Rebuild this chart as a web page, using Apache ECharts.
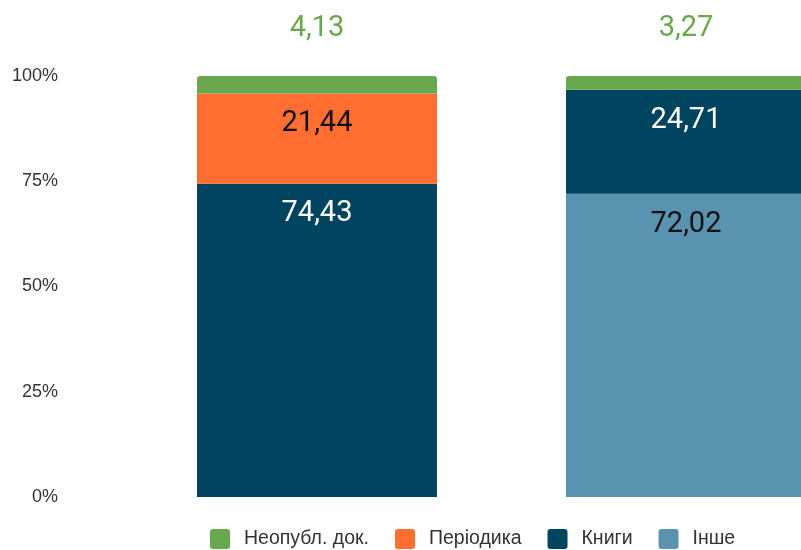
<!DOCTYPE html>
<html>
<head>
<meta charset="utf-8">
<script src="https://cdn.jsdelivr.net/npm/echarts@6/dist/echarts.min.js"></script>
<style>
    html, body { margin: 0; padding: 0; background: #fff; }
    #chart { width: 801px; height: 550px; }
</style>
</head>
<body>
<div id="chart"></div>
<script>
    // categories (no visible labels on the axis)
    const categories = ['Фонд 1', 'Фонд 2'];

    // shares, %  ('-' = no segment)
    const inshe = ['-', 72.02];
    const knyhy = [74.43, 24.71];
    const periodyka = [21.44, '-'];
    const neopubl = [4.13, 3.27];

    const yTicks = [0, 25, 50, 75, 100];

    const legendNames = ['Неопубл. док.', 'Періодика', 'Книги', 'Інше'];

    const fmt = p => p.value.toFixed(2).replace('.', ',');

    const labelFont = {fontFamily: 'Roboto', fontSize: 29};

    const chart = echarts.init(document.getElementById('chart'));

    const option = {
        animation: false,
        textStyle: {fontFamily: '"Liberation Sans", Arial, sans-serif'},
        grid: {
            top: 76,
            bottom: 53,
            left: 132.5,
            width: 738,
            containLabel: false,
            outerBoundsMode: 'none'
        },
        legend: {
            data: legendNames,
            left: 210,
            top: 529,
            padding: 0,
            itemWidth: 20,
            itemHeight: 20,
            itemGap: 26,
            // square with small rounded corners
            icon: 'path://M3,0 H17 Q20,0 20,3 V17 Q20,20 17,20 H3 Q0,20 0,17 V3 Q0,0 3,0 Z',
            textStyle: {
                fontSize: 19.5,
                color: '#333',
                padding: [0, 0, 0, 9]
            }
        },
        xAxis: {
            type: 'category',
            data: categories,
            axisLine: {show: false},
            axisTick: {show: false},
            axisLabel: {show: false}
        },
        yAxis: {
            type: 'value',
            min: yTicks[0],
            max: yTicks[yTicks.length - 1],
            interval: 25,
            splitLine: {show: false},
            axisLine: {show: false},
            axisTick: {show: false},
            axisLabel: {
                formatter: '{value}%',
                fontSize: 18,
                color: '#333',
                margin: 74.5
            }
        },
        series: [
            {
                name: 'Інше',
                type: 'bar',
                stack: 'share',
                barWidth: 240,
                itemStyle: {color: '#5a93b0'},
                label: {show: true, position: 'insideTop', distance: 16, color: '#111', formatter: fmt, ...labelFont},
                data: inshe
            },
            {
                name: 'Книги',
                type: 'bar',
                stack: 'share',
                barWidth: 240,
                itemStyle: {color: '#01445f'},
                label: {show: true, position: 'insideTop', distance: 16, color: '#fff', formatter: fmt, ...labelFont},
                data: knyhy
            },
            {
                name: 'Періодика',
                type: 'bar',
                stack: 'share',
                barWidth: 240,
                itemStyle: {color: '#ff6d31'},
                label: {show: true, position: 'insideTop', distance: 16, color: '#111', formatter: fmt, ...labelFont},
                data: periodyka
            },
            {
                name: 'Неопубл. док.',
                type: 'bar',
                stack: 'share',
                barWidth: 240,
                itemStyle: {color: '#6aa84f', borderRadius: [3, 3, 0, 0]},
                label: {show: true, position: 'top', distance: 33, color: '#6aa84f', formatter: fmt, ...labelFont},
                data: neopubl
            }
        ]
    };

    chart.setOption(option);
</script>
</body>
</html>
